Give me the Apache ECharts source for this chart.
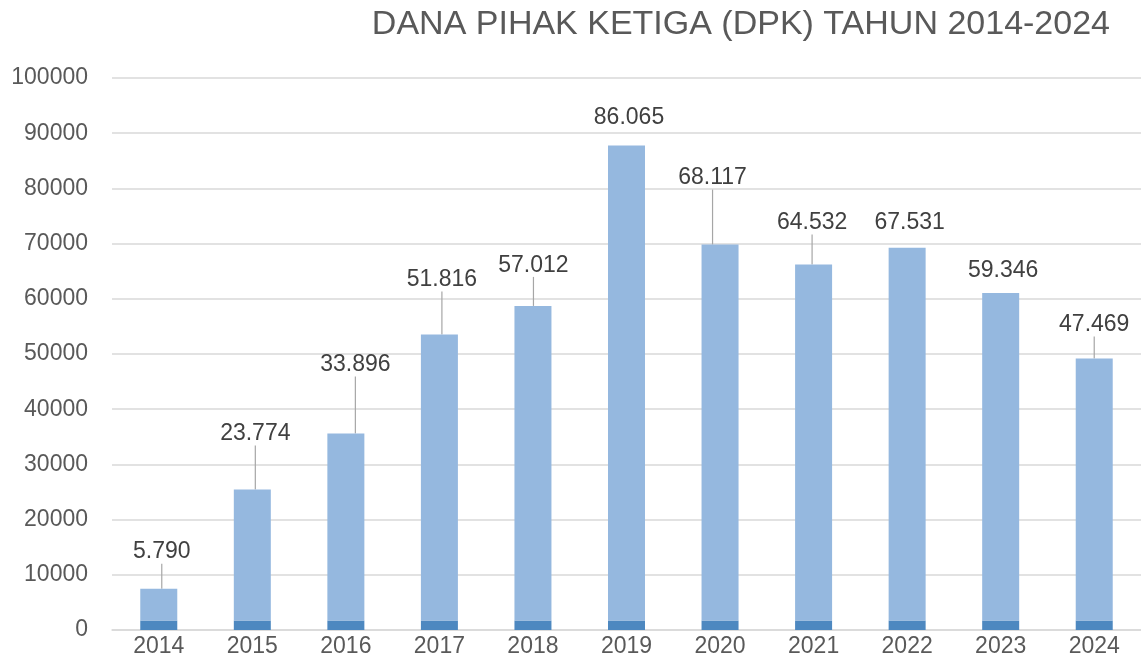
<!DOCTYPE html>
<html>
<head>
<meta charset="utf-8">
<script src="https://cdn.jsdelivr.net/npm/echarts@6/dist/echarts.min.js"></script>
<style>
html,body{margin:0;padding:0;background:#fff;}
#chart{width:1141px;height:658px;}
</style>
</head>
<body>
<div id="chart"></div>
<script>
// ---- data ----
const titleText = 'DANA PIHAK KETIGA (DPK) TAHUN 2014-2024';
const years = ['2014','2015','2016','2017','2018','2019','2020','2021','2022','2023','2024'];
const dpkValues = [5790, 23774, 33896, 51816, 57012, 86065, 68117, 64532, 67531, 59346, 47469];
const baseValues = [1700, 1700, 1700, 1700, 1700, 1700, 1700, 1700, 1700, 1700, 1700];
const yTicks = [0, 10000, 20000, 30000, 40000, 50000, 60000, 70000, 80000, 90000, 100000];

// ---- label layout (styling only) ----
const labelNudgeX = [3, 3, 9.5, 2.5, 0.5, 2.5, -7.5, -1.5, 2.5, 2.5, 0];
const labelNudgeY = [-10, -29, -42, -28, -14, -1, -40, -15, 1, 4, -7];
const showLeader = [true, true, true, true, true, false, true, true, false, false, true];

function fmtDot(v) {
  const s = String(Math.round(v));
  return s.replace(/\B(?=(\d{3})+(?!\d))/g, '.');
}

const chart = echarts.init(document.getElementById('chart'), null, {renderer: 'canvas'});
const FONT = 'Liberation Sans';

chart.setOption({
  animation: false,
  backgroundColor: '#ffffff',
  title: {
    text: titleText,
    right: 26,
    top: 3,
    textStyle: {fontFamily: FONT, fontSize: 34, fontWeight: 'normal', color: '#595959'}
  },
  grid: {left: 112, right: 0, top: 78, bottom: 26, containLabel: false},
  xAxis: {
    type: 'category',
    data: years,
    axisLine: {show: true, lineStyle: {color: '#d9d9d9', width: 1.5}},
    axisTick: {show: false},
    axisLabel: {fontFamily: FONT, fontSize: 23, color: '#595959', margin: 5}
  },
  yAxis: {
    type: 'value',
    min: yTicks[0],
    max: yTicks[yTicks.length - 1],
    interval: yTicks[1] - yTicks[0],
    axisLine: {show: false},
    axisTick: {show: false},
    splitLine: {lineStyle: {color: '#d9d9d9', width: 1.5}},
    axisLabel: {fontFamily: FONT, fontSize: 23, color: '#595959', margin: 24,
      formatter: v => String(v)}
  },
  series: [
    {
      name: 'base',
      type: 'bar',
      stack: 'dpk',
      barWidth: 37,
      itemStyle: {color: '#4D88C0'},
      data: baseValues,
      silent: true
    },
    {
      name: 'DPK',
      type: 'bar',
      stack: 'dpk',
      barWidth: 37,
      itemStyle: {color: '#95B8DF'},
      data: dpkValues.map((v, i) => ({value: v, labelLine: {show: showLeader[i]}})),
      label: {
        show: true,
        position: 'top',
        distance: 5,
        fontFamily: FONT,
        fontSize: 23,
        color: '#404040',
        padding: [0, 0, 10, 0],
        formatter: p => fmtDot(p.value)
      },
      labelLine: {show: true, length2: 0, smooth: false, lineStyle: {color: '#a6a6a6', width: 1.2}},
      labelLayout: function (params) {
        const i = params.dataIndex;
        return {dx: labelNudgeX[i], dy: labelNudgeY[i]};
      }
    }
  ]
});
</script>
</body>
</html>
